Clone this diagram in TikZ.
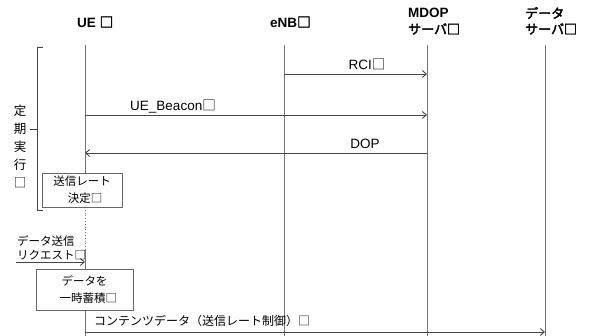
\documentclass[tikz,border=0pt]{standalone}
\usepackage{fontspec}
\setmainfont{Liberation Sans}
\newfontfamily\jp{Noto Sans CJK JP}[AutoFakeBold=2.5]
\usetikzlibrary{arrows.meta}
\begin{document}
\begin{tikzpicture}[x=1pt,y=-1pt,
  life/.style={draw=black!55, line width=0.8pt},
  msg/.style={draw=black!72, line width=0.9pt, -{Straight Barb[length=4pt,width=7pt]}},
  hdr/.style={font=\fontsize{13.5}{15}\selectfont\bfseries, align=left, inner sep=0pt},
  jhdr/.style={font=\jp\fontsize{13}{15}\selectfont\bfseries, align=left, inner sep=0pt},
  lbl/.style={font=\fontsize{13.5}{15}\selectfont, inner sep=0pt},
  jlbl/.style={font=\jp\fontsize{12}{14}\selectfont, inner sep=0pt},
  procbox/.style={draw=black!60, fill=white, line width=0.7pt, inner sep=0pt, align=center,
    font=\jp\fontsize{11.5}{17}\selectfont},
  brack/.style={draw=black!75, line width=0.9pt}]
\useasboundingbox (0,0) rectangle (590,336);
% headers
\node[hdr, anchor=west] (hue) at (77,22) {UE {\jp\bfseries □}};
\node[hdr, anchor=west] (henb) at (270,22) {eNB{\jp\bfseries □}};
\node[hdr, anchor=west] (hmdop1) at (408,13) {MDOP};
\node[jhdr, anchor=west] (hmdop2) at (408,29) {サーバ□};
\node[jhdr, anchor=west] (hds1) at (525,13) {データ};
\node[jhdr, anchor=west] (hds2) at (525,29) {サーバ□};
% lifeline coordinates
\coordinate (ueT) at (85,45);
\coordinate (ueA) at (85,207);
\coordinate (ueB) at (85,250);
\coordinate (ueE) at (85,336);
\coordinate (enbT) at (284,45);
\coordinate (enbE) at (284,336);
\coordinate (mdT) at (427,45);
\coordinate (mdE) at (427,336);
\coordinate (dsT) at (545,45);
\coordinate (dsE) at (545,336);
\draw[life] (ueT) -- (ueA);
\draw[life, dotted, line width=1pt] (ueA) -- (ueB);
\draw[life] (ueB) -- (ueE);
\draw[life] (enbT) -- (enbE);
\draw[life] (mdT) -- (mdE);
\draw[life] (dsT) -- (dsE);
% messages
\coordinate (rciS) at (284,74);
\coordinate (rciE) at (427,74);
\draw[msg] (rciS) -- (rciE);
\node[lbl] (lrci) at (367,64) {RCI{\jp □}};
\coordinate (bcS) at (85,115);
\coordinate (bcE) at (427,115);
\draw[msg] (bcS) -- (bcE);
\node[lbl] (lbc) at (173,107) {UE\_Beacon{\jp □}};
\coordinate (dopS) at (427,153);
\coordinate (dopE) at (85,153);
\draw[msg] (dopS) -- (dopE);
\node[lbl] (ldop) at (365,144) {DOP};
% bracket
\draw[brack] (43,47) -- (37,47) -- (37,210) -- (43,210);
\draw[brack] (30,129) -- (37,129);
\node[font=\jp\fontsize{12.5}{18}\selectfont, align=center, inner sep=0pt] (per) at (20,146) {定\\期\\実\\行\\□};
% boxes
\node[procbox, minimum width=80, minimum height=34] (rate) at (82,190) {送信レート\\\hspace*{6pt}決定□};
\coordinate (rqS) at (16,262);
\coordinate (rqE) at (85,262);
\draw[msg] (rqS) -- (rqE);
\node[font=\jp\fontsize{11.5}{14}\selectfont, align=left, inner sep=0pt, anchor=south west] (lrq) at (17,260) {データ送信\\リクエスト□};
\node[procbox, minimum width=97, minimum height=41] (store) at (84.5,289.5) {データを\\\hspace*{8pt}一時蓄積□};
\coordinate (cdS) at (85,332);
\coordinate (cdE) at (545,332);
\draw[msg] (cdS) -- (cdE);
\node[jlbl, anchor=west] (lcd) at (94,321) {コンテンツデータ（送信レート制御）□};
\end{tikzpicture}
\end{document}
